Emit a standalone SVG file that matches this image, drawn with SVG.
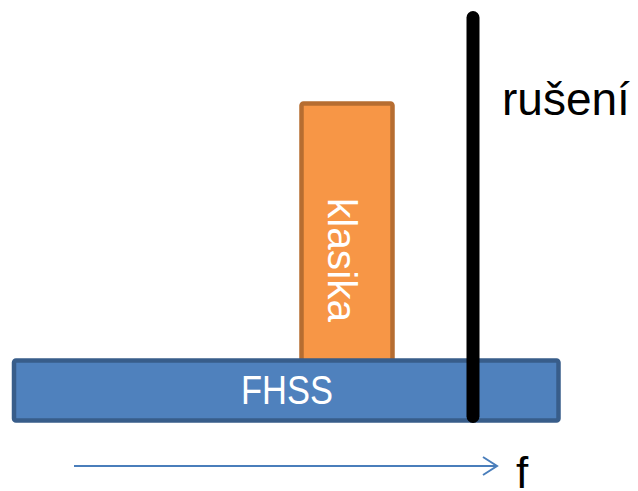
<svg xmlns="http://www.w3.org/2000/svg" width="638" height="491" viewBox="0 0 638 491">
<style>
.lbl{font-family:"Liberation Sans",Arial,sans-serif}
.white{fill:#fff}
</style>
<defs>
<marker id="chev" markerUnits="userSpaceOnUse" markerWidth="20" markerHeight="22" refX="17" refY="10" orient="auto">
<path d="M3,1 L17,10 L3,19" fill="none" stroke="#4A7EBB" stroke-width="2"/>
</marker>
</defs>
<rect width="638" height="491" fill="#fff"/>
<g id="klasika">
<rect x="301.5" y="103.5" width="91" height="262" rx="2" fill="#F79646" stroke="#B66D31" stroke-width="4.5"/>
<text class="lbl white" transform="translate(328,198) rotate(90)" font-size="41" textLength="124" lengthAdjust="spacingAndGlyphs">klasika</text>
</g>
<g id="fhss">
<rect x="14" y="360.5" width="544.5" height="60" rx="2" fill="#4F81BD" stroke="#385D8A" stroke-width="4.5"/>
<text class="lbl white" x="241" y="404" font-size="40" textLength="92" lengthAdjust="spacingAndGlyphs">FHSS</text>
</g>
<g id="ruseni">
<line x1="473" y1="17.5" x2="473" y2="416.5" stroke="#000" stroke-width="13" stroke-linecap="round"/>
<text class="lbl" x="502" y="115" font-size="46">rušení</text>
</g>
<g id="connectors">
<line x1="74" y1="466" x2="497" y2="466" stroke="#4A7EBB" stroke-width="2.2" marker-end="url(#chev)"/>
</g>
<g id="axis-label">
<text class="lbl" x="516" y="488" font-size="44">f</text>
</g>
</svg>
